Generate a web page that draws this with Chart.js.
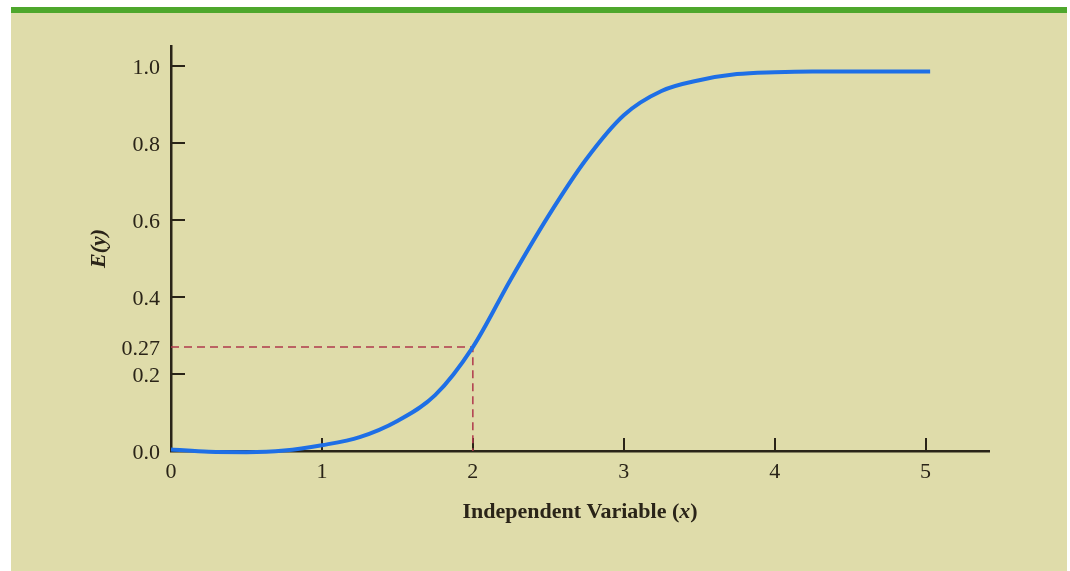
<!DOCTYPE html>
<html>
<head>
<meta charset="utf-8">
<script src="https://cdn.jsdelivr.net/npm/chart.js@4.4.0/dist/chart.umd.min.js"></script>
<style>
  body { margin: 0; background: #ffffff; }
  #topBar { position: absolute; left: 11px; top: 7px; width: 1056px; height: 6px; background: #4ea72c; }
  #panel { position: absolute; left: 11px; top: 13px; width: 1056px; height: 558px; background: #dfdcaa; }
  #myChart { position: absolute; left: 0; top: 0; }
</style>
</head>
<body>
<div id="topBar"></div>
<div id="panel"></div>
<canvas id="myChart" width="1070" height="571"></canvas>
<script>
// values
var xValues = [0, 0.25, 0.5, 0.75, 1.0, 1.25, 1.5, 1.75, 2.0, 2.25, 2.5, 2.75, 3.0, 3.25, 3.5, 3.75, 4.0, 4.25, 4.5, 4.75, 5.03];
var eyValues = [0.004, -0.002, -0.003, 0.001, 0.015, 0.036, 0.078, 0.145, 0.27, 0.445, 0.61, 0.757, 0.872, 0.935, 0.963, 0.979, 0.984, 0.986, 0.986, 0.986, 0.986];

// dashed guide at x = 2
var guideX = [0, 2, 2];
var guideY = [0.27, 0.27, 0];

var xTicks = [0, 1, 2, 3, 4, 5];
var yTicks = [0, 0.2, 0.27, 0.4, 0.6, 0.8, 1.0];
var yTickLabels = ['0.0', '0.2', '0.27', '0.4', '0.6', '0.8', '1.0'];
var yMarkTicks = [0.2, 0.4, 0.6, 0.8, 1.0];
var xMarkTicks = [1, 2, 3, 4, 5];

var ink = '#2a2418';
var serif = "'Liberation Serif', 'Times New Roman', serif";

function toPoints(xs, ys){
    var pts = [];
    for(let i = 0; i < xs.length; i++){
        pts.push({x: xs[i], y: ys[i]});
    }
    return pts;
}

// tick marks pointing into the plot
var innerTicks = {
    id: 'innerTicks',
    beforeDatasetsDraw: function(chart){
        var ctx = chart.ctx;
        var xs = chart.scales.x, ys = chart.scales.y;
        var area = chart.chartArea;
        ctx.save();
        ctx.strokeStyle = ink;
        ctx.lineWidth = 2;
        ctx.beginPath();
        for(let i = 0; i < xMarkTicks.length; i++){
            var px = Math.round(xs.getPixelForValue(xMarkTicks[i]));
            ctx.moveTo(px, area.bottom);
            ctx.lineTo(px, area.bottom - 13);
        }
        for(let i = 0; i < yMarkTicks.length; i++){
            var py = Math.round(ys.getPixelForValue(yMarkTicks[i]));
            ctx.moveTo(area.left, py);
            ctx.lineTo(area.left + 14, py);
        }
        ctx.stroke();
        ctx.restore();
    }
};

// x title with an italic x
var xTitle = {
    id: 'xTitle',
    afterDraw: function(chart){
        var ctx = chart.ctx;
        var area = chart.chartArea;
        var parts = [
            {t: 'Independent Variable (', f: 'bold 22px ' + serif},
            {t: 'x', f: 'italic bold 22px ' + serif},
            {t: ')', f: 'bold 22px ' + serif}
        ];
        ctx.save();
        ctx.fillStyle = ink;
        ctx.textBaseline = 'middle';
        var total = 0;
        parts.forEach(function(p){ ctx.font = p.f; p.w = ctx.measureText(p.t).width; total += p.w; });
        var x = (area.left + area.right) / 2 - total / 2;
        parts.forEach(function(p){ ctx.font = p.f; ctx.fillText(p.t, x, 512); x += p.w; });
        ctx.restore();
    }
};

var ctx = document.getElementById('myChart');
var chart = new Chart(ctx, {
    type: 'line',
    data: {
        datasets: [{
            label: 'E(y)',
            data: toPoints(xValues, eyValues),
            borderColor: '#1e6fe6',
            borderWidth: 4,
            pointRadius: 0,
            cubicInterpolationMode: 'monotone',
            clip: false,
            fill: false
        }, {
            label: 'guide',
            data: toPoints(guideX, guideY),
            borderColor: '#b03a4c',
            borderWidth: 1.5,
            borderDash: [8, 5],
            pointRadius: 0,
            tension: 0,
            fill: false
        }]
    },
    options: {
        responsive: false,
        animation: false,
        layout: { padding: { top: 46, right: 81, left: 0, bottom: 0 } },
        plugins: {
            legend: { display: false },
            tooltip: { enabled: false }
        },
        scales: {
            x: {
                type: 'linear',
                min: 0,
                max: 5.42,
                afterBuildTicks: function(scale){
                    scale.ticks = xTicks.map(function(v){ return {value: v}; });
                },
                afterFit: function(scale){ scale.height = 120; },
                grid: { display: false, drawTicks: false },
                border: { display: true, color: ink, width: 2.5 },
                ticks: {
                    color: ink,
                    padding: 8,
                    font: { family: serif, size: 22 },
                    callback: function(v){ return String(v); }
                }
            },
            y: {
                type: 'linear',
                min: 0,
                max: 1.052,
                afterBuildTicks: function(scale){
                    scale.ticks = yTicks.map(function(v){ return {value: v}; });
                },
                afterFit: function(scale){ scale.width = 171; },
                grid: { display: false, drawTicks: false },
                border: { display: true, color: ink, width: 2.5 },
                ticks: {
                    color: ink,
                    padding: 11,
                    labelOffset: 2,
                    font: { family: serif, size: 22 },
                    callback: function(v){
                        var i = yTicks.indexOf(v);
                        return i >= 0 ? yTickLabels[i] : '';
                    }
                },
                title: {
                    display: true,
                    text: 'E(y)',
                    color: ink,
                    padding: { top: 86, bottom: 0 },
                    font: { family: serif, size: 22, style: 'italic', weight: 'bold' }
                }
            }
        }
    },
    plugins: [innerTicks, xTitle]
});
</script>
</body>
</html>
